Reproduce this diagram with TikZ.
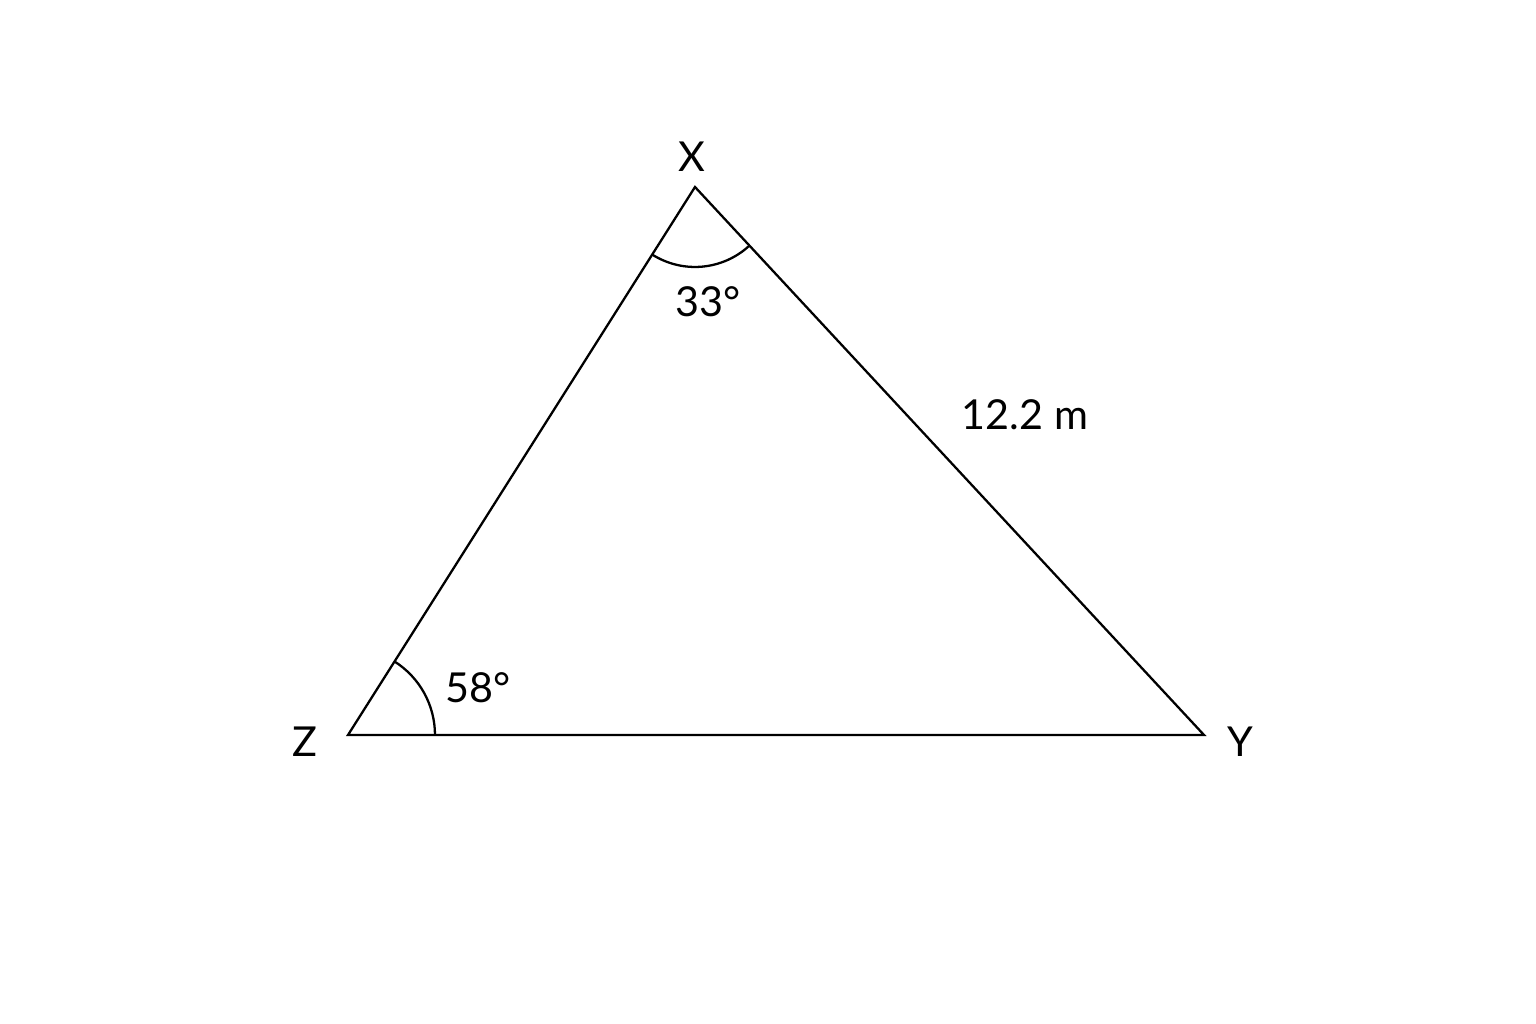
\documentclass[tikz,border=0pt]{standalone}
\usepackage{fontspec}
\setmainfont{Lato}
\begin{document}
\begin{tikzpicture}[x=0.02cm,y=0.02cm,
  edge/.style={line width=1.3pt, line join=miter},
  anglearc/.style={line width=1.3pt},
  lbl/.style={font=\fontsize{23.5}{28}\selectfont, inner sep=0pt}]
\useasboundingbox (0,0) rectangle (1536,1024);
\fill[white] (0,0) rectangle (1536,1024);
\coordinate (X) at (695,837);
\coordinate (Z) at (348,289);
\coordinate (Y) at (1204,289);
\draw[edge] (X) -- (Y) -- (Z) -- cycle;
\draw[anglearc] (X) ++(237.66:1.6cm) arc[start angle=237.66, end angle=312.89, radius=1.6cm];
\draw[anglearc] (Z) ++(0:1.74cm) arc[start angle=0, end angle=57.66, radius=1.74cm];
\node[lbl] (lX) at (692,867) {X};
\node[lbl] (lZ) at (305,282) {Z};
\node[lbl] (lY) at (1240,282) {Y};
\node[lbl] (a33) at (708,722) {33°};
\node[lbl] (a58) at (478,336) {58°};
\node[lbl] (side) at (1025,609) {12.2 m};
\end{tikzpicture}
\end{document}
